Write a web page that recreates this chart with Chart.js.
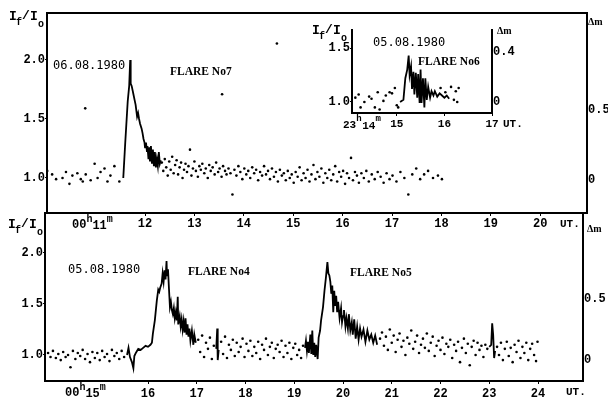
<!DOCTYPE html>
<html>
<head>
<meta charset="utf-8">
<script src="https://cdn.jsdelivr.net/npm/chart.js@4/dist/chart.umd.min.js"></script>
<style>
  html, body { margin: 0; padding: 0; background: #fff; }
  #wrap { position: relative; width: 608px; height: 403px; }
  #wrap canvas { position: absolute; left: 0; top: 0; }
</style>
</head>
<body>
<div id="wrap">
  <canvas id="topChart" width="608" height="403"></canvas>
  <canvas id="bottomChart" width="608" height="403"></canvas>
  <canvas id="insetChart" width="608" height="403"></canvas>
</div>
<script>
// ---- data (minutes after the hour, I_f/I_o) ----
var topTicksX = [12, 13, 14, 15, 16, 17, 18, 19, 20];
var bottomTicksX = [16, 17, 18, 19, 20, 21, 22, 23, 24];
var insetTicksX = [15, 16, 17];
var ratioTicks = [1.0, 1.5, 2.0];
var insetRatioTicks = [1.0, 1.5];
var dmTicks = [0, 0.5];
var insetDmTicks = [0, 0.4];

// flare No7, 06.08.1980
var flare7Dots = [
  [10.02,1.06],[10.12,1.03],[10.2,0.99],[10.33,1.0],[10.4,1.05],[10.47,0.95],[10.53,1.02],[10.63,1.04],
  [10.7,0.99],[10.74,0.97],[10.8,1.03],[10.79,1.59],[10.9,0.98],[10.98,1.12],[11.04,1.0],[11.1,1.05],
  [11.18,1.08],[11.24,0.97],[11.3,1.02],[11.38,1.1],[11.48,0.97],
  [12.34,1.13],[12.37,1.06],[12.4,1.16],[12.43,1.09],[12.46,1.02],[12.49,1.14],[12.52,1.07],[12.55,1.18],
  [12.58,1.04],[12.61,1.11],[12.64,1.15],[12.67,1.03],[12.7,1.09],[12.73,1.13],[12.76,1.0],[12.79,1.07],
  [12.82,1.12],[12.85,1.05],[12.88,1.1],[12.91,1.24],[12.94,1.02],[12.97,1.08],[13.0,1.14],[13.03,1.06],
  [13.07,1.01],[13.1,1.1],[13.13,1.07],[13.16,1.12],[13.2,1.04],[13.23,1.08],[13.27,1.0],[13.3,1.11],
  [13.33,1.06],[13.37,1.09],[13.41,1.03],[13.44,1.13],[13.48,1.05],[13.51,1.08],[13.55,1.01],[13.56,1.71],
  [13.58,1.1],[13.62,1.06],[13.65,1.03],[13.69,1.08],[13.73,1.04],[13.77,0.86],[13.81,1.07],[13.85,1.02],
  [13.89,1.1],[13.93,1.05],[13.97,0.99],[14.01,1.08],[14.05,1.03],[14.09,1.06],[14.13,1.0],[14.17,1.09],
  [14.21,1.04],[14.25,1.07],[14.29,0.98],[14.33,1.05],[14.37,1.02],[14.41,1.1],[14.45,1.03],[14.49,1.06],
  [14.53,0.99],[14.57,1.08],[14.61,1.01],[14.65,1.05],[14.67,2.14],[14.69,0.97],[14.73,1.07],[14.77,1.02],
  [14.81,1.04],[14.85,0.98],[14.89,1.06],[14.93,1.0],[14.97,1.03],[15.01,0.96],[15.05,1.05],[15.09,1.01],
  [15.13,1.09],[15.17,0.98],[15.21,1.04],[15.25,1.0],[15.29,1.07],[15.33,0.97],[15.37,1.03],[15.41,1.11],
  [15.45,0.99],[15.49,1.05],[15.53,1.01],[15.57,1.08],[15.61,0.96],[15.65,1.04],[15.69,1.0],[15.73,1.07],
  [15.77,0.98],[15.81,1.03],[15.85,1.1],[15.89,0.97],[15.93,1.05],[15.97,1.01],[16.01,1.06],[16.05,0.95],
  [16.09,1.04],[16.13,1.0],[16.17,1.17],[16.21,0.98],[16.25,1.05],[16.29,1.02],[16.33,0.96],[16.38,1.04],
  [16.43,1.0],[16.48,1.06],[16.53,0.97],[16.59,1.03],[16.65,0.99],[16.71,1.05],[16.77,1.01],[16.83,0.96],
  [16.89,1.04],[16.95,0.99],[17.01,1.02],[17.09,0.97],[17.17,1.05],[17.25,1.0],[17.33,0.86],[17.41,1.03],
  [17.49,1.08],[17.57,0.99],[17.65,1.03],[17.73,1.06],[17.83,1.0],[17.93,1.02],[18.01,0.99]
];
var flare7Line = [
  [11.56,1.0],[11.6,1.3],[11.65,1.65],[11.68,1.78],[11.7,2.0],[11.71,1.8],[11.73,1.78],[11.76,1.72],
  [11.79,1.66],[11.81,1.62],[11.84,1.52],[11.86,1.55],[11.88,1.5],[11.9,1.46],[11.93,1.42],[11.95,1.38],
  [11.97,1.33],[11.99,1.3],[12.0,1.26],[12.02,1.3],[12.04,1.22],[12.05,1.27],[12.07,1.16],[12.09,1.26],
  [12.1,1.14],[12.12,1.27],[12.14,1.12],[12.16,1.24],[12.18,1.1],[12.2,1.22],[12.22,1.09],[12.24,1.16],
  [12.26,1.1],[12.28,1.22],[12.3,1.12],[12.32,1.15]
];

// flares No4 and No5, 05.08.1980
var flare45Dots = [
  [13.95,1.02],[14.0,0.98],[14.05,1.04],[14.11,0.97],[14.16,1.01],[14.21,0.95],[14.26,1.03],[14.31,0.98],
  [14.36,1.0],[14.41,0.88],[14.46,1.04],[14.51,0.96],[14.56,1.02],[14.61,0.99],[14.66,1.05],[14.71,0.96],
  [14.76,1.01],[14.81,0.93],[14.86,1.03],[14.91,0.97],[14.96,1.02],[15.01,0.95],[15.06,1.04],[15.11,0.98],
  [15.16,1.01],[15.21,0.94],[15.26,1.05],[15.31,0.99],[15.36,1.02],[15.41,0.96],[15.46,1.04],[15.51,0.98],
  [17.03,1.15],[17.07,1.03],[17.11,1.19],[17.15,0.98],[17.19,1.12],[17.23,1.06],[17.27,1.17],[17.31,0.96],
  [17.35,1.09],[17.5,1.13],[17.54,1.01],[17.58,1.18],[17.62,0.97],[17.66,1.1],[17.7,1.05],[17.74,1.15],
  [17.78,0.99],[17.82,1.12],[17.86,1.03],[17.9,1.08],[17.94,1.16],[17.98,0.98],[18.02,1.11],[18.06,1.04],
  [18.1,1.14],[18.14,0.99],[18.18,1.08],[18.22,1.02],[18.26,1.13],[18.3,0.96],[18.34,1.1],[18.38,1.05],
  [18.42,1.16],[18.46,1.0],[18.5,1.08],[18.54,1.12],[18.58,0.97],[18.62,1.06],[18.66,1.1],[18.7,1.03],
  [18.74,1.14],[18.78,0.98],[18.82,1.09],[18.86,1.02],[18.9,1.12],[18.94,0.96],[18.98,1.07],[19.02,1.11],
  [19.06,1.0],[19.1,1.05],[19.14,0.97],[19.18,1.09],
  [20.76,1.16],[20.8,1.22],[20.84,1.09],[20.88,1.18],[20.92,1.05],[20.96,1.25],[21.0,1.12],[21.04,1.19],
  [21.08,1.03],[21.12,1.15],[21.16,1.21],[21.2,1.08],[21.24,1.14],[21.28,1.0],[21.32,1.17],[21.36,1.11],
  [21.4,1.24],[21.44,1.06],[21.48,1.13],[21.52,1.19],[21.56,1.02],[21.6,1.1],[21.64,1.16],[21.68,1.07],
  [21.72,1.21],[21.76,1.04],[21.8,1.12],[21.84,1.18],[21.88,0.99],[21.92,1.09],[21.96,1.14],[22.0,1.05],
  [22.04,1.17],[22.08,1.01],[22.12,1.11],[22.16,1.08],[22.2,1.15],[22.24,0.97],[22.28,1.1],[22.32,1.04],
  [22.36,1.13],[22.4,0.93],[22.44,1.07],[22.48,1.16],[22.52,1.02],[22.56,1.11],[22.6,0.9],[22.64,1.08],
  [22.68,1.14],[22.72,1.0],[22.76,1.12],[22.8,1.05],[22.84,1.09],[22.88,0.98],[22.92,1.1],[22.96,1.06],
  [23.16,1.08],[23.2,1.0],[23.24,1.12],[23.28,0.95],[23.32,1.06],[23.36,1.13],[23.4,0.99],[23.44,1.07],
  [23.48,0.93],[23.52,1.1],[23.56,1.03],[23.6,1.14],[23.64,0.97],[23.68,1.08],[23.72,1.02],[23.76,1.12],
  [23.8,0.95],[23.84,1.06],[23.88,1.11],[23.92,1.0],[23.96,0.94],[23.99,1.13]
];
var flare4Line = [
  [15.57,1.0],[15.6,1.07],[15.63,0.98],[15.67,0.93],[15.7,0.87],[15.72,0.99],[15.75,1.02],[15.8,1.06],
  [15.85,1.05],[15.9,1.07],[15.95,1.09],[16.0,1.08],[16.05,1.1],[16.08,1.12],[16.1,1.21],[16.14,1.34],
  [16.18,1.53],[16.21,1.64],[16.23,1.62],[16.25,1.66],[16.28,1.7],[16.3,1.8],[16.32,1.72],[16.34,1.83],
  [16.36,1.74],[16.38,1.92],[16.39,1.78],[16.41,1.84],[16.43,1.65],[16.45,1.47],[16.47,1.52],[16.49,1.44],
  [16.51,1.4],[16.53,1.46],[16.55,1.36],[16.57,1.42],[16.59,1.34],[16.61,1.57],[16.62,1.3],[16.65,1.38],
  [16.67,1.28],[16.69,1.35],[16.71,1.25],[16.73,1.33],[16.75,1.22],[16.77,1.36],[16.79,1.2],[16.81,1.3],
  [16.83,1.18],[16.85,1.26],[16.87,1.14],[16.9,1.24],[16.93,1.1],[16.95,1.2],[16.98,1.12]
];
var spike1Line = [[17.4,1.06],[17.42,1.26],[17.43,0.95],[17.45,1.05]];
var flare5Line = [
  [19.22,1.07],[19.24,1.14],[19.26,1.04],[19.28,1.13],[19.3,1.02],[19.33,1.2],[19.35,1.01],[19.37,1.24],
  [19.39,1.0],[19.41,1.12],[19.43,0.98],[19.45,1.1],[19.48,0.96],[19.5,1.17],[19.53,1.24],[19.55,1.34],
  [19.59,1.47],[19.62,1.63],[19.65,1.76],[19.68,1.91],[19.7,1.8],[19.72,1.78],[19.74,1.72],[19.76,1.6],
  [19.78,1.68],[19.8,1.42],[19.82,1.63],[19.84,1.48],[19.86,1.58],[19.88,1.42],[19.9,1.52],[19.93,1.36],
  [19.96,1.46],[19.98,1.32],[20.0,1.38],[20.02,1.44],[20.05,1.28],[20.07,1.36],[20.1,1.26],[20.12,1.4],
  [20.15,1.24],[20.18,1.32],[20.2,1.2],[20.23,1.35],[20.26,1.16],[20.29,1.28],[20.32,1.15],[20.35,1.26],
  [20.38,1.18],[20.42,1.25],[20.46,1.13],[20.5,1.24],[20.54,1.15],[20.58,1.2],[20.62,1.12],[20.66,1.19],
  [20.7,1.1]
];
var spike2Line = [[23.0,1.08],[23.04,1.1],[23.06,1.31],[23.08,1.2],[23.1,0.97],[23.12,1.04]];

// flare No6, inset (23h14m..17m)
var flare6Dots = [
  [14.13,1.04],[14.2,1.07],[14.24,0.95],[14.32,1.0],[14.42,1.05],[14.47,1.03],[14.54,0.95],[14.6,1.09],
  [14.64,0.93],[14.72,1.01],[14.77,1.06],[14.85,1.09],[14.9,1.08],[14.96,1.13],[15.0,0.97],[15.03,0.95],
  [15.92,1.13],[16.02,1.09],[16.14,1.14],[16.2,1.02],[16.24,1.1],[16.27,1.0],[16.3,1.13]
];
var flare6Line = [
  [15.07,1.0],[15.14,1.02],[15.18,1.22],[15.22,1.3],[15.25,1.43],[15.27,1.25],[15.3,1.33],[15.32,1.12],
  [15.35,1.28],[15.37,1.07],[15.4,1.27],[15.43,1.04],[15.45,1.26],[15.48,0.99],[15.5,1.3],[15.52,0.99],
  [15.55,1.22],[15.58,0.95],[15.6,1.22],[15.63,1.02],[15.66,1.14],[15.7,1.04],[15.73,1.1],[15.77,1.06],
  [15.8,1.1],[15.85,1.05],[15.9,1.08],[15.95,1.06],[16.0,1.04],[16.05,1.06],[16.1,1.03]
];

var W = 608, H = 403;
var MONO = "'Liberation Mono', 'DejaVu Sans Mono', monospace";
var tickFont = { family: MONO, size: 12, weight: 'bold' };

function pts(arr) {
  return arr.map(function (p) { return { x: p[0], y: p[1] }; });
}

function lineSet(arr) {
  return { data: pts(arr), showLine: true, pointRadius: 0, borderColor: '#000', borderWidth: 1.8, yAxisID: 'y' };
}

function dotSet(arr) {
  return { data: pts(arr), showLine: false, pointRadius: 1.3, pointBorderWidth: 0, backgroundColor: '#000', yAxisID: 'y' };
}

function fixTicks(values) {
  return function (s) { s.ticks = values.map(function (v) { return { value: v }; }); };
}

function axisBase(extra) {
  var o = {
    type: 'linear',
    grid: { drawOnChartArea: false, tickLength: 3, color: '#000', lineWidth: 1 },
    border: { color: '#000', width: 2 },
    ticks: { color: '#000', font: tickFont, padding: 0, maxRotation: 0, autoSkip: false }
  };
  for (var k in extra) o[k] = extra[k];
  return o;
}

// I_f/I_o label drawn as text pieces with subscripts
function ratioLabel(x, y) {
  var big = "bold 13px " + MONO, small = "bold 10px " + MONO;
  return [
    { text: 'I', x: x, y: y, font: big },
    { text: 'f', x: x + 7, y: y + 5, font: small },
    { text: '/', x: x + 13, y: y - 1, font: big },
    { text: 'I', x: x + 21, y: y, font: big },
    { text: 'o', x: x + 29, y: y + 7, font: small }
  ];
}

// hours/minutes label: 00^h11^m
function hmLabel(x, y, hh, mm, size) {
  var big = "bold " + size + "px " + MONO, small = "bold " + (size - 2) + "px " + MONO;
  var cw = size * 0.6;
  return [
    { text: hh, x: x, y: y, font: big },
    { text: 'h', x: x + 2 * cw, y: y - 6, font: small },
    { text: mm, x: x + 2 * cw + 6, y: y + 1, font: big },
    { text: 'm', x: x + 4 * cw + 6, y: y - 6, font: small }
  ];
}

var decorPlugin = {
  id: 'decor',
  afterDraw: function (chart, args, opts) {
    var ctx = chart.ctx, a = chart.chartArea;
    ctx.save();
    ctx.fillStyle = '#000';
    ctx.strokeStyle = '#000';
    if (opts.topBorder) {
      ctx.lineWidth = 2;
      ctx.beginPath();
      ctx.moveTo(a.left, a.top);
      ctx.lineTo(a.right, a.top);
      ctx.stroke();
    }
    (opts.texts || []).forEach(function (t) {
      ctx.font = t.font;
      ctx.textAlign = t.align || 'left';
      ctx.textBaseline = 'middle';
      ctx.fillText(t.text, t.x, t.y);
    });
    ctx.restore();
  }
};

function makeChart(id, cfg) {
  var canvas = document.getElementById(id);
  return new Chart(canvas.getContext('2d'), {
    type: 'scatter',
    data: { datasets: cfg.datasets },
    options: {
      responsive: false,
      animation: false,
      devicePixelRatio: 1,
      layout: { padding: { top: cfg.area.top, left: 0, right: 0, bottom: 0 } },
      plugins: {
        legend: { display: false },
        tooltip: { enabled: false },
        decor: { texts: cfg.texts, topBorder: cfg.topBorder }
      },
      scales: {
        x: axisBase({
          position: 'bottom', min: cfg.x.min, max: cfg.x.max,
          afterBuildTicks: fixTicks(cfg.x.ticks),
          afterFit: function (s) { s.height = H - cfg.area.bottom; },
          ticks: { color: '#000', font: cfg.x.font || tickFont, padding: cfg.x.pad, maxRotation: 0, autoSkip: false,
            callback: function (v) { return String(v); } }
        }),
        y: axisBase({
          position: 'left', min: cfg.y.min, max: cfg.y.max,
          afterBuildTicks: fixTicks(cfg.y.ticks),
          afterFit: function (s) { s.width = cfg.area.left; },
          grid: { drawOnChartArea: false, tickLength: 2, color: '#000', lineWidth: 1 },
          ticks: { color: '#000', font: tickFont, padding: 0, autoSkip: false,
            callback: function (v) { return v.toFixed(1); } }
        }),
        y2: axisBase({
          position: 'right', min: cfg.y2.min, max: cfg.y2.max,
          afterBuildTicks: fixTicks(cfg.y2.ticks),
          afterFit: function (s) { s.width = W - cfg.area.right; },
          grid: { drawOnChartArea: false, tickLength: 1, color: '#000', lineWidth: 1 },
          ticks: { color: '#000', font: tickFont, padding: 0, autoSkip: false,
            callback: function (v) { return String(v); } }
        })
      }
    },
    plugins: [decorPlugin]
  });
}

var flareFont = "bold 11.5px 'Liberation Serif', serif";
var dateFont = "12px 'DejaVu Sans Mono', monospace";
var smallFont = "bold 11px " + MONO;
var dmFont = "bold 10px 'Liberation Serif', serif";

// top panel: flare No7
makeChart('topChart', {
  area: { left: 47, top: 13, right: 587, bottom: 213 },
  x: { min: 10.016, max: 20.947, ticks: topTicksX, pad: 1 },
  y: { min: 0.703, max: 2.398, ticks: ratioTicks },
  y2: { min: -0.236, max: 1.193, ticks: dmTicks },
  topBorder: true,
  datasets: [dotSet(flare7Dots), lineSet(flare7Line)],
  texts: [].concat(
    ratioLabel(9, 17),
    hmLabel(72, 225, '00', '11', 12),
    [
      { text: '06.08.1980', x: 53, y: 66, font: dateFont },
      { text: 'FLARE No7', x: 170, y: 72, font: flareFont },
      { text: 'UT.', x: 560, y: 224, font: smallFont },
      { text: 'Δm', x: 588, y: 22, font: dmFont }
    ]
  )
});

// bottom panel: flares No4, No5
makeChart('bottomChart', {
  area: { left: 45, top: 213, right: 583, bottom: 381 },
  x: { min: 13.887, max: 24.923, ticks: bottomTicksX, pad: 3 },
  y: { min: 0.745, max: 2.392, ticks: ratioTicks },
  y2: { min: -0.172, max: 1.205, ticks: dmTicks },
  topBorder: true,
  datasets: [dotSet(flare45Dots), lineSet(flare4Line), lineSet(spike1Line), lineSet(flare5Line), lineSet(spike2Line)],
  texts: [].concat(
    ratioLabel(8, 225),
    hmLabel(65, 393, '00', '15', 12),
    [
      { text: '05.08.1980', x: 68, y: 270, font: dateFont },
      { text: 'FLARE No4', x: 188, y: 272, font: flareFont },
      { text: 'FLARE No5', x: 350, y: 273, font: flareFont },
      { text: 'UT.', x: 566, y: 392, font: smallFont },
      { text: 'Δm', x: 587, y: 229, font: dmFont }
    ]
  )
});

// inset: flare No6
makeChart('insetChart', {
  area: { left: 352, top: 30, right: 492, bottom: 113 },
  x: { min: 14.06, max: 17.0, ticks: insetTicksX, pad: 2, font: { family: MONO, size: 11, weight: 'bold' } },
  y: { min: 0.898, max: 1.667, ticks: insetRatioTicks },
  y2: { min: -0.088, max: 0.576, ticks: insetDmTicks },
  topBorder: false,
  datasets: [dotSet(flare6Dots), lineSet(flare6Line)],
  texts: [].concat(
    ratioLabel(312, 31),
    hmLabel(343, 125, '23', '14', 11),
    [
      { text: '05.08.1980', x: 373, y: 43, font: dateFont },
      { text: 'FLARE No6', x: 418, y: 62, font: flareFont },
      { text: 'UT.', x: 503, y: 124, font: smallFont },
      { text: 'Δm', x: 497, y: 31, font: dmFont }
    ]
  )
});
</script>
</body>
</html>
